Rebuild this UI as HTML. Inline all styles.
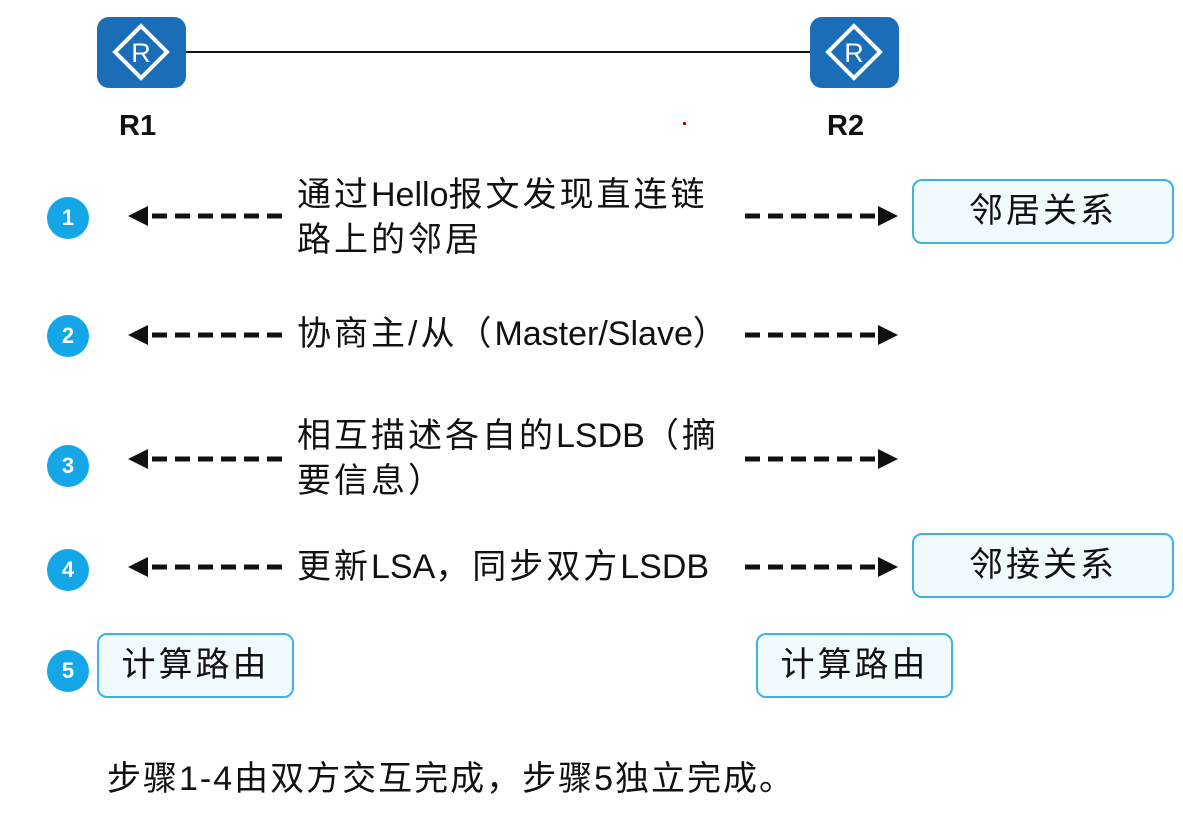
<!DOCTYPE html>
<html><head><meta charset="utf-8"><style>
body{margin:0;width:1183px;height:816px;background:#fff;position:relative;overflow:hidden;font-family:"Liberation Sans","Noto Sans CJK SC",sans-serif;color:#111}
.r{position:absolute;width:89px;height:71px;background:#1b6db8;border-radius:12px}
.r svg{position:absolute;left:0;top:0}
.lb{position:absolute;font-weight:bold;font-size:29px}
.c{position:absolute;width:42px;height:42px;border-radius:50%;background:#14a6e6;color:#fff;font-weight:bold;font-size:22px;text-align:center;line-height:42px;left:47px}
.t{position:absolute;font-size:34px;letter-spacing:3px;line-height:45px;left:297px;white-space:nowrap}
.t span{letter-spacing:0}
.b{position:absolute;background:#f1fafe;border:2px solid #3db3e3;border-radius:10px;font-size:34px;letter-spacing:3px;text-align:center;box-sizing:border-box}
svg.a{position:absolute}
</style></head><body>
<div class="r" style="left:97px;top:17px"><svg width="89" height="71"><polygon points="44,9 70,35 44,61 18,35" fill="none" stroke="#fff" stroke-width="4"/><text x="44" y="45" font-size="27" fill="#fff" text-anchor="middle" font-family="Liberation Sans">R</text></svg></div>
<div class="r" style="left:810px;top:17px"><svg width="89" height="71"><polygon points="44,9 70,35 44,61 18,35" fill="none" stroke="#fff" stroke-width="4"/><text x="44" y="45" font-size="27" fill="#fff" text-anchor="middle" font-family="Liberation Sans">R</text></svg></div>
<div style="position:absolute;left:186px;top:51px;width:624px;height:2px;background:#111"></div>
<div class="lb" style="left:119px;top:110px">R1</div>
<div class="lb" style="left:827px;top:110px">R2</div>
<div style="position:absolute;left:683px;top:122px;width:3px;height:3px;background:#c00"></div>

<svg class="a" width="1183" height="816" style="left:0;top:0">
<defs><marker id="m" markerWidth="4" markerHeight="4" refX="2" refY="2" orient="auto"><path d="M0,0 L4,2 L0,4z" fill="#111"/></marker></defs>
<g stroke="#111" stroke-width="5" stroke-dasharray="15,8" marker-end="url(#m)">
<line x1="282" y1="216" x2="138" y2="216"/><line x1="745" y1="216" x2="888" y2="216"/>
<line x1="282" y1="335" x2="138" y2="335"/><line x1="745" y1="335" x2="888" y2="335"/>
<line x1="282" y1="459" x2="138" y2="459"/><line x1="745" y1="459" x2="888" y2="459"/>
<line x1="282" y1="567" x2="138" y2="567"/><line x1="745" y1="567" x2="888" y2="567"/>
</g></svg>

<div class="c" style="top:197px">1</div>
<div class="c" style="top:315px">2</div>
<div class="c" style="top:445px">3</div>
<div class="c" style="top:549px">4</div>
<div class="c" style="top:650px">5</div>

<div class="t" style="top:173px">通过<span>Hello</span>报文发现直连链<br>路上的邻居</div>
<div class="t" style="top:312px">协商主/从（<span>Master/Slave</span>）</div>
<div class="t" style="top:414px">相互描述各自的<span>LSDB</span>（摘<br>要信息）</div>
<div class="t" style="top:545px">更新<span>LSA</span>，同步双方<span>LSDB</span></div>

<div class="b" style="left:912px;top:179px;width:262px;height:65px;line-height:61px">邻居关系</div>
<div class="b" style="left:912px;top:533px;width:262px;height:65px;line-height:61px">邻接关系</div>
<div class="b" style="left:97px;top:633px;width:197px;height:65px;line-height:61px">计算路由</div>
<div class="b" style="left:756px;top:633px;width:197px;height:65px;line-height:61px">计算路由</div>

<div class="t" style="left:107px;top:757px;letter-spacing:2px">步骤1-4由双方交互完成，步骤5独立完成。</div>
</body></html>
